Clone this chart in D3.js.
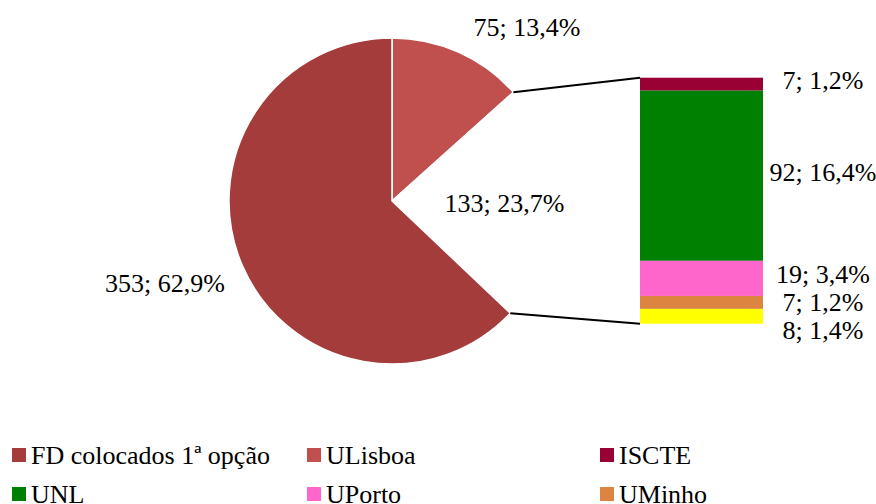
<!DOCTYPE html>
<html>
<head>
<meta charset="utf-8">
<script src="https://cdn.jsdelivr.net/npm/d3@7"></script>
<style>
  body { margin: 0; background: #fff; }
</style>
</head>
<body>
<svg id="chart" width="876" height="504"></svg>
<script>
// pie slices, clockwise from 12 o'clock
var pieNames = ['ULisboa', 'Outras', 'FD colocados 1ª opção'];
var pieValues = [75, 133, 353];
var pieColors = ['#C0504D', 'none', '#A33C3A'];

// stacked bar for the "Outras" slice, top to bottom
var barNames = ['ISCTE', 'UNL', 'UPorto', 'UMinho', 'Outra'];
var barValues = [7, 92, 19, 7, 8];
var barColors = ['#990033', '#008000', '#FF66CC', '#DD8440', '#FFFF00'];

// legend (in reading order)
var legendNames = ['FD colocados 1ª opção', 'ULisboa', 'ISCTE', 'UNL', 'UPorto', 'UMinho'];
var legendColors = ['#A33C3A', '#C0504D', '#990033', '#008000', '#FF66CC', '#DD8440'];

var FONT = '"Liberation Serif", "Times New Roman", Tinos, "DejaVu Serif", serif';

var svg = d3.select('#chart')
	.attr('font-family', FONT)
	.style('font-family', FONT);
var total = d3.sum(pieValues);
var fmt = function(v) {
	return v + '; ' + (v / total * 100).toFixed(1).replace('.', ',') + '%';
};

var cx = 392, cy = 201, radius = 163;

var pie = d3.pie().sort(null).value(function(d) { return d; });
var arcs = pie(pieValues);
var arc = d3.arc().innerRadius(0).outerRadius(radius);

var g = svg.append('g').attr('transform', 'translate(' + cx + ',' + cy + ')');
g.selectAll('path.slice').data(arcs).enter().append('path')
	.attr('class', 'slice')
	.attr('d', arc)
	.attr('fill', function(d, i) { return pieColors[i] === 'none' ? '#fff' : pieColors[i]; })
	.attr('stroke', '#fff')
	.attr('stroke-width', 1.5);

//pie labels
var pieLabelPos = [[527, 27], null, [165, 283]];
var labelArc = d3.arc().innerRadius(radius * 0.69).outerRadius(radius * 0.69);
arcs.forEach(function(d, i) {
	var p = pieLabelPos[i];
	if (!p) {
		var c = labelArc.centroid(d);
		p = [cx + c[0], cy + c[1]];
	}
	svg.append('text')
		.attr('x', p[0]).attr('y', p[1])
		.attr('dy', '0.35em')
		.attr('text-anchor', 'middle')
		.attr('font-family', FONT)
		.style('font-size', '26px')
		.text(fmt(pieValues[i]));
});

//bar
var barX = 640, barW = 123;
var y = d3.scaleLinear().domain([0, d3.sum(barValues)]).range([77.7, 323.7]);
var cum = 0;
var segs = barValues.map(function(v, i) {
	var s = {name: barNames[i], value: v, y0: cum, y1: cum + v, color: barColors[i]};
	cum += v;
	return s;
});
svg.selectAll('rect.seg').data(segs).enter().append('rect')
	.attr('class', 'seg')
	.attr('x', barX)
	.attr('width', barW)
	.attr('y', function(d) { return y(d.y0); })
	.attr('height', function(d) { return y(d.y1) - y(d.y0); })
	.attr('fill', function(d) { return d.color; });

//leader lines from the "Outras" slice edges to the bar
var other = arcs[1];
function edge(a) {
	return [cx + radius * Math.sin(a), cy - radius * Math.cos(a)];
}
var pTop = edge(other.startAngle), pBot = edge(other.endAngle);
svg.append('line')
	.attr('x1', pTop[0]).attr('y1', pTop[1])
	.attr('x2', barX).attr('y2', y(0))
	.attr('stroke', '#000').attr('stroke-width', 2);
svg.append('line')
	.attr('x1', pBot[0]).attr('y1', pBot[1])
	.attr('x2', barX).attr('y2', y(d3.sum(barValues)))
	.attr('stroke', '#000').attr('stroke-width', 2);

//bar labels, pushed apart so they don't overlap
var last = -Infinity;
segs.forEach(function(d) {
	var ly = (y(d.y0) + y(d.y1)) / 2 - 4;
	if (ly < last + 28) ly = last + 28;
	last = ly;
	svg.append('text')
		.attr('x', 823).attr('y', ly)
		.attr('dy', '0.35em')
		.attr('text-anchor', 'middle')
		.attr('font-family', FONT)
		.style('font-size', '26px')
		.text(fmt(d.value));
});

//legend
var colX = [12, 307, 600], rowY = [448, 487];
legendNames.forEach(function(name, i) {
	var lx = colX[i % 3], ly = rowY[Math.floor(i / 3)];
	svg.append('rect')
		.attr('x', lx).attr('y', ly)
		.attr('width', 14).attr('height', 14)
		.attr('fill', legendColors[i]);
	svg.append('text')
		.attr('x', lx + 19).attr('y', ly + 7)
		.attr('dy', '0.35em')
		.attr('font-family', FONT)
		.style('font-size', '26px')
		.text(name);
});
</script>
</body>
</html>
